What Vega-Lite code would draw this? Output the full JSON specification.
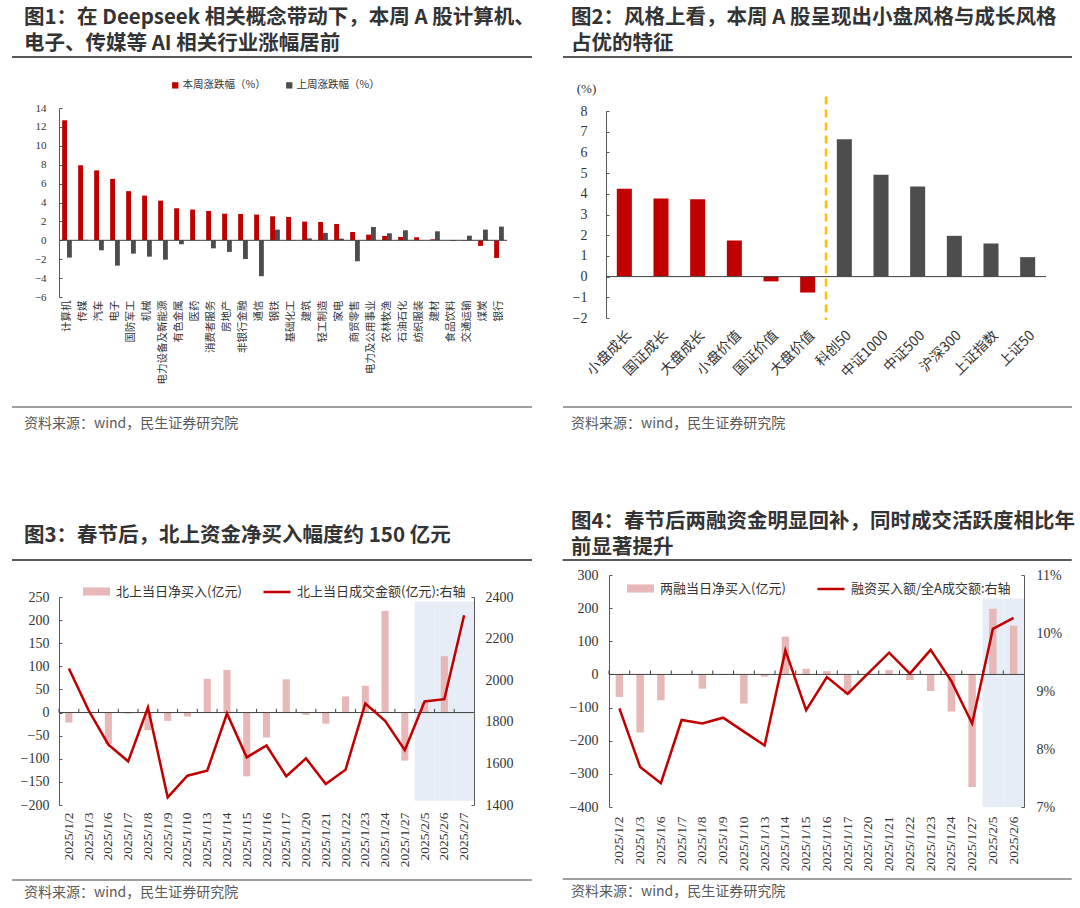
{
  "$schema": "https://vega.github.io/schema/vega-lite/v6.json",
  "background": "white",
  "padding": {"left": 10, "top": 7, "right": 5, "bottom": 5},
  "config": {
    "view": {"stroke": null},
    "title": {"font": "Noto Sans CJK SC", "fontSize": 20.5, "fontWeight": "bold", "color": "#333333", "anchor": "start", "frame": "group", "lineHeight": 26}
  },
  "resolve": {"scale": {"color": "independent", "fill": "independent", "stroke": "independent"}, "legend": {"color": "independent", "fill": "independent", "stroke": "independent"}},
  "spacing": 80,
  "vconcat": [
    {
      "spacing": 27,
      "resolve": {"scale": {"color": "independent", "fill": "independent", "stroke": "independent"}, "legend": {"color": "independent", "fill": "independent", "stroke": "independent"}},
      "hconcat": [
        {
          "spacing": 22,
          "resolve": {"scale": {"color": "independent", "fill": "independent", "stroke": "independent"}, "legend": {"color": "independent", "fill": "independent", "stroke": "independent"}},
          "vconcat": [
            {
              "width": 448, "height": 1,
              "data": {"values": [{}]},
              "title": {"text": ["图1：在 Deepseek 相关概念带动下，本周 A 股计算机、", "电子、传媒等 AI 相关行业涨幅居前"], "dx": -35, "offset": 2},
              "mark": {"type": "rule", "color": "#595959", "strokeWidth": 2},
              "encoding": {
                "x": {"datum": -0.1049, "type": "quantitative", "scale": {"domain": [0, 1], "nice": false, "zero": false}, "axis": null},
                "x2": {"datum": 1.0558},
                "y": {"datum": 1, "type": "quantitative", "scale": {"domain": [0, 1], "nice": false}, "axis": null}
              }
            },
            {
              "width": 448, "height": 189,
              "data": {"values": [
                {"industry": "计算机", "本周涨跌幅（%）": 12.7, "上周涨跌幅（%）": -1.83},
                {"industry": "传媒", "本周涨跌幅（%）": 7.94, "上周涨跌幅（%）": 0.05},
                {"industry": "汽车", "本周涨跌幅（%）": 7.4, "上周涨跌幅（%）": -1.06},
                {"industry": "电子", "本周涨跌幅（%）": 6.5, "上周涨跌幅（%）": -2.68},
                {"industry": "国防军工", "本周涨跌幅（%）": 5.2, "上周涨跌幅（%）": -1.41},
                {"industry": "机械", "本周涨跌幅（%）": 4.73, "上周涨跌幅（%）": -1.73},
                {"industry": "电力设备及新能源", "本周涨跌幅（%）": 4.2, "上周涨跌幅（%）": -2.05},
                {"industry": "有色金属", "本周涨跌幅（%）": 3.39, "上周涨跌幅（%）": -0.42},
                {"industry": "医药", "本周涨跌幅（%）": 3.25, "上周涨跌幅（%）": 0.02},
                {"industry": "消费者服务", "本周涨跌幅（%）": 3.1, "上周涨跌幅（%）": -0.85},
                {"industry": "房地产", "本周涨跌幅（%）": 2.82, "上周涨跌幅（%）": -1.23},
                {"industry": "非银行金融", "本周涨跌幅（%）": 2.79, "上周涨跌幅（%）": -1.98},
                {"industry": "通信", "本周涨跌幅（%）": 2.72, "上周涨跌幅（%）": -3.8},
                {"industry": "钢铁", "本周涨跌幅（%）": 2.54, "上周涨跌幅（%）": 1.13},
                {"industry": "基础化工", "本周涨跌幅（%）": 2.47, "上周涨跌幅（%）": -0.05},
                {"industry": "建筑", "本周涨跌幅（%）": 1.98, "上周涨跌幅（%）": 0.2},
                {"industry": "轻工制造", "本周涨跌幅（%）": 1.94, "上周涨跌幅（%）": 0.78},
                {"industry": "家电", "本周涨跌幅（%）": 1.73, "上周涨跌幅（%）": 0.18},
                {"industry": "商贸零售", "本周涨跌幅（%）": 0.88, "上周涨跌幅（%）": -2.22},
                {"industry": "电力及公用事业", "本周涨跌幅（%）": 0.6, "上周涨跌幅（%）": 1.41},
                {"industry": "农林牧渔", "本周涨跌幅（%）": 0.46, "上周涨跌幅（%）": 0.74},
                {"industry": "石油石化", "本周涨跌幅（%）": 0.35, "上周涨跌幅（%）": 1.06},
                {"industry": "纺织服装", "本周涨跌幅（%）": 0.32, "上周涨跌幅（%）": 0.02},
                {"industry": "建材", "本周涨跌幅（%）": 0.1, "上周涨跌幅（%）": 0.95},
                {"industry": "食品饮料", "本周涨跌幅（%）": 0.02, "上周涨跌幅（%）": -0.08},
                {"industry": "交通运输", "本周涨跌幅（%）": -0.05, "上周涨跌幅（%）": 0.49},
                {"industry": "煤炭", "本周涨跌幅（%）": -0.6, "上周涨跌幅（%）": 1.13},
                {"industry": "银行", "本周涨跌幅（%）": -1.87, "上周涨跌幅（%）": 1.45}
              ]},
              "layer": [
                {
                  "transform": [{"fold": ["本周涨跌幅（%）", "上周涨跌幅（%）"], "as": ["series", "value"]}],
                  "mark": {"type": "bar"},
                  "encoding": {
                    "x": {"field": "industry", "type": "nominal", "sort": null, "scale": {"paddingInner": 0, "paddingOuter": 0},
                      "axis": {"title": null, "labelAngle": -90, "domain": false, "ticks": false, "labelPadding": 3, "labelFont": "Noto Sans CJK SC", "labelFontSize": 10.5, "labelColor": "#333333"}},
                    "xOffset": {"field": "series", "type": "nominal", "sort": null, "scale": {"paddingInner": 0, "paddingOuter": 0.65}},
                    "y": {"field": "value", "type": "quantitative", "scale": {"domain": [-6, 14], "nice": false},
                      "axis": {"title": null, "values": [-6, -4, -2, 0, 2, 4, 6, 8, 10, 12, 14], "format": "d", "tickCount": 40, "labelOverlap": false, "grid": false, "domainColor": "#595959", "tickColor": "#595959", "tickSize": -3, "labelPadding": 16, "labelFont": "Liberation Serif", "labelFontSize": 11, "labelColor": "#333333"}},
                    "color": {"field": "series", "type": "nominal", "sort": null,
                      "scale": {"domain": ["本周涨跌幅（%）", "上周涨跌幅（%）"], "range": ["#C00000", "#4D4D4D"]},
                      "legend": {"orient": "none", "legendX": 111, "legendY": -28, "direction": "horizontal", "title": null, "symbolType": "square", "symbolSize": 40, "labelFont": "Noto Sans CJK SC", "labelFontSize": 10.5, "labelColor": "#333333", "columnPadding": 18, "labelOffset": 2, "padding": 0}}
                  }
                },
                {
                  "data": {"values": [{}]},
                  "mark": {"type": "rule", "color": "#404040", "strokeWidth": 1},
                  "encoding": {"y": {"datum": 0, "type": "quantitative"}}
                }
              ]
            },
            {
              "width": 448, "height": 1,
              "data": {"values": [{}]},
              "title": {"text": "资料来源：wind，民生证券研究院", "orient": "bottom", "dx": -35, "offset": 9, "fontSize": 14, "fontWeight": "normal", "color": "#595959"},
              "mark": {"type": "rule", "color": "#7F7F7F", "strokeWidth": 1.5},
              "encoding": {
                "x": {"datum": -0.1049, "type": "quantitative", "scale": {"domain": [0, 1], "nice": false, "zero": false}, "axis": null},
                "x2": {"datum": 1.0558},
                "y": {"datum": 0, "type": "quantitative", "scale": {"domain": [0, 1], "nice": false}, "axis": null}
              }
            }
          ]
        },
        {
          "spacing": 24,
          "resolve": {"scale": {"color": "independent", "fill": "independent", "stroke": "independent"}, "legend": {"color": "independent", "fill": "independent", "stroke": "independent"}},
          "vconcat": [
            {
              "width": 440, "height": 1,
              "data": {"values": [{}]},
              "title": {"text": ["图2：风格上看，本周 A 股呈现出小盘风格与成长风格", "占优的特征"], "dx": -35, "offset": 2},
              "mark": {"type": "rule", "color": "#595959", "strokeWidth": 2},
              "encoding": {
                "x": {"datum": -0.0977, "type": "quantitative", "scale": {"domain": [0, 1], "nice": false, "zero": false}, "axis": null},
                "x2": {"datum": 1.0591},
                "y": {"datum": 1, "type": "quantitative", "scale": {"domain": [0, 1], "nice": false}, "axis": null}
              }
            },
            {
              "width": 440, "height": 207,
              "data": {"values": [
                {"name": "小盘成长", "value": 4.24, "group": "风格指数"},
                {"name": "国证成长", "value": 3.77, "group": "风格指数"},
                {"name": "大盘成长", "value": 3.74, "group": "风格指数"},
                {"name": "小盘价值", "value": 1.74, "group": "风格指数"},
                {"name": "国证价值", "value": -0.23, "group": "风格指数"},
                {"name": "大盘价值", "value": -0.77, "group": "风格指数"},
                {"name": "科创50", "value": 6.63, "group": "宽基指数"},
                {"name": "中证1000", "value": 4.92, "group": "宽基指数"},
                {"name": "中证500", "value": 4.35, "group": "宽基指数"},
                {"name": "沪深300", "value": 1.97, "group": "宽基指数"},
                {"name": "上证指数", "value": 1.6, "group": "宽基指数"},
                {"name": "上证50", "value": 0.94, "group": "宽基指数"}
              ]},
              "layer": [
                {
                  "mark": {"type": "bar", "width": {"band": 0.41}},
                  "encoding": {
                    "x": {"field": "name", "type": "nominal", "sort": null, "scale": {"paddingInner": 0, "paddingOuter": 0},
                      "axis": {"title": null, "labelAngle": -45, "domain": false, "ticks": false, "labelPadding": 10, "labelFont": "Noto Sans CJK SC", "labelFontSize": 14, "labelColor": "#333333"}},
                    "y": {"field": "value", "type": "quantitative", "scale": {"domain": [-2, 8], "nice": false},
                      "axis": {"title": "(%)", "titleAngle": 0, "titleX": -20, "titleY": -23, "titleAlign": "center", "titleBaseline": "middle", "titleFont": "Liberation Serif", "titleFontSize": 13, "titleFontWeight": "normal", "titleColor": "#333333",
                        "values": [-2, -1, 0, 1, 2, 3, 4, 5, 6, 7, 8], "format": "d", "tickCount": 40, "labelOverlap": false, "grid": false, "domainColor": "#595959", "tickColor": "#595959", "tickSize": -3, "labelPadding": 22, "labelFont": "Liberation Serif", "labelFontSize": 14, "labelColor": "#333333"}},
                    "color": {"field": "group", "type": "nominal", "scale": {"domain": ["风格指数", "宽基指数"], "range": ["#C00000", "#4D4D4D"]}, "legend": null}
                  }
                },
                {
                  "data": {"values": [{}]},
                  "mark": {"type": "rule", "color": "#404040", "strokeWidth": 1},
                  "encoding": {"y": {"datum": 0, "type": "quantitative"}}
                },
                {
                  "data": {"values": [{}]},
                  "mark": {"type": "rule", "color": "#FFC000", "strokeWidth": 2.5, "strokeDash": [8, 5]},
                  "encoding": {
                    "x": {"datum": "科创50", "type": "nominal", "bandPosition": 0},
                    "y": {"datum": 8.7, "type": "quantitative"},
                    "y2": {"datum": -2.1}
                  }
                }
              ]
            },
            {
              "width": 440, "height": 3,
              "data": {"values": [{}]},
              "title": {"text": "资料来源：wind，民生证券研究院", "orient": "bottom", "dx": -35, "offset": 9, "fontSize": 14, "fontWeight": "normal", "color": "#595959"},
              "mark": {"type": "rule", "color": "#7F7F7F", "strokeWidth": 1.5},
              "encoding": {
                "x": {"datum": -0.0977, "type": "quantitative", "scale": {"domain": [0, 1], "nice": false, "zero": false}, "axis": null},
                "x2": {"datum": 1.0591},
                "y": {"datum": 0, "type": "quantitative", "scale": {"domain": [0, 1], "nice": false}, "axis": null}
              }
            }
          ]
        }
      ]
    },
    {
      "spacing": 27,
      "resolve": {"scale": {"color": "independent", "fill": "independent", "stroke": "independent"}, "legend": {"color": "independent", "fill": "independent", "stroke": "independent"}},
      "hconcat": [
        {
          "spacing": 12,
          "resolve": {"scale": {"color": "independent", "fill": "independent", "stroke": "independent"}, "legend": {"color": "independent", "fill": "independent", "stroke": "independent"}},
          "vconcat": [
            {
              "width": 415, "height": 5,
              "data": {"values": [{}]},
              "title": {"text": "图3：春节后，北上资金净买入幅度约 150 亿元", "dx": -35, "offset": 13},
              "mark": {"type": "rule", "color": "#595959", "strokeWidth": 2},
              "encoding": {
                "x": {"datum": -0.1133, "type": "quantitative", "scale": {"domain": [0, 1], "nice": false, "zero": false}, "axis": null},
                "x2": {"datum": 1.1398},
                "y": {"datum": 1, "type": "quantitative", "scale": {"domain": [0, 1], "nice": false}, "axis": null}
              }
            },
            {
              "width": 415, "height": 208,
              "data": {"values": [
                {"date": "2025/1/2", "net": -21.6, "amount": 2056},
                {"date": "2025/1/3", "net": -1, "amount": 1855},
                {"date": "2025/1/6", "net": -68, "amount": 1690},
                {"date": "2025/1/7", "net": -2, "amount": 1610},
                {"date": "2025/1/8", "net": -38, "amount": 1869},
                {"date": "2025/1/9", "net": -18, "amount": 1437},
                {"date": "2025/1/10", "net": -8.6, "amount": 1541},
                {"date": "2025/1/13", "net": 73, "amount": 1565},
                {"date": "2025/1/14", "net": 92, "amount": 1840},
                {"date": "2025/1/15", "net": -138, "amount": 1629},
                {"date": "2025/1/16", "net": -54, "amount": 1686},
                {"date": "2025/1/17", "net": 72, "amount": 1538},
                {"date": "2025/1/20", "net": -5, "amount": 1624},
                {"date": "2025/1/21", "net": -24, "amount": 1501},
                {"date": "2025/1/22", "net": 35, "amount": 1570},
                {"date": "2025/1/23", "net": 58, "amount": 1888},
                {"date": "2025/1/24", "net": 220, "amount": 1805},
                {"date": "2025/1/27", "net": -104, "amount": 1664},
                {"date": "2025/2/5", "net": 22, "amount": 1898},
                {"date": "2025/2/6", "net": 122, "amount": 1909},
                {"date": "2025/2/7", "net": 0, "amount": 2312}
              ]},
              "layer": [
                {
                  "layer": [
                    {
                      "transform": [{"filter": {"field": "date", "oneOf": ["2025/2/5", "2025/2/6", "2025/2/7"]}}],
                      "mark": {"type": "rect", "color": "#E6EDF6"},
                      "encoding": {
                        "x": {"field": "date", "type": "nominal", "sort": null,
                          "axis": {"title": null, "labelAngle": -90, "domain": false, "ticks": false, "labelPadding": 7, "labelFont": "Liberation Serif", "labelFontSize": 13.5, "labelColor": "#333333"}},
                        "y": {"datum": 240, "type": "quantitative"},
                        "y2": {"datum": -191}
                      }
                    },
                    {
                      "mark": {"type": "bar", "width": {"band": 0.36}},
                      "encoding": {
                        "x": {"field": "date", "type": "nominal", "sort": null,
                          "scale": {"domain": ["2025/1/2", "2025/1/3", "2025/1/6", "2025/1/7", "2025/1/8", "2025/1/9", "2025/1/10", "2025/1/13", "2025/1/14", "2025/1/15", "2025/1/16", "2025/1/17", "2025/1/20", "2025/1/21", "2025/1/22", "2025/1/23", "2025/1/24", "2025/1/27", "2025/2/5", "2025/2/6", "2025/2/7"], "paddingInner": 0, "paddingOuter": 0},
                          "axis": {"title": null, "labelAngle": -90, "domain": false, "ticks": false, "labelPadding": 7, "labelFont": "Liberation Serif", "labelFontSize": 13.5, "labelColor": "#333333"}},
                        "y": {"field": "net", "type": "quantitative", "scale": {"domain": [-200, 250], "nice": false},
                          "axis": {"title": null, "values": [-200, -150, -100, -50, 0, 50, 100, 150, 200, 250], "format": "d", "tickCount": 40, "labelOverlap": false, "grid": false, "domainColor": "#595959", "tickColor": "#595959", "tickSize": -3, "labelPadding": 13, "labelFont": "Liberation Serif", "labelFontSize": 14, "labelColor": "#333333"}},
                        "fill": {"datum": "北上当日净买入(亿元)", "type": "nominal", "scale": {"range": ["#E6B9B8"]},
                          "legend": {"orient": "none", "legendX": 23, "legendY": -20, "title": null, "symbolType": "M-1,-0.3H1V0.3H-1Z", "symbolSize": 729, "labelFont": "Noto Sans CJK SC", "labelFontSize": 13, "labelColor": "#333333", "labelOffset": 5, "labelLimit": 300, "padding": 0}}
                      }
                    },
                    {
                      "data": {"values": [{}]},
                      "mark": {"type": "rule", "color": "#404040", "strokeWidth": 1},
                      "encoding": {"y": {"datum": 0, "type": "quantitative"}}
                    },
                    {
                      "mark": {"type": "rule", "color": "#404040", "strokeWidth": 1},
                      "encoding": {
                        "x": {"field": "date", "type": "nominal", "sort": null, "bandPosition": 0,
                          "axis": {"title": null, "labelAngle": -90, "domain": false, "ticks": false, "labelPadding": 7, "labelFont": "Liberation Serif", "labelFontSize": 13.5, "labelColor": "#333333"}},
                        "y": {"datum": 0, "type": "quantitative"},
                        "y2": {"datum": 8}
                      }
                    }
                  ]
                },
                {
                  "mark": {"type": "line", "strokeWidth": 2.5},
                  "encoding": {
                    "x": {"field": "date", "type": "nominal", "sort": null,
                      "axis": {"title": null, "labelAngle": -90, "domain": false, "ticks": false, "labelPadding": 7, "labelFont": "Liberation Serif", "labelFontSize": 13.5, "labelColor": "#333333"}},
                    "y": {"field": "amount", "type": "quantitative", "scale": {"domain": [1400, 2400], "nice": false, "zero": false},
                      "axis": {"orient": "right", "title": null, "values": [1400, 1600, 1800, 2000, 2200, 2400], "tickCount": 40, "format": "d", "labelOverlap": false, "grid": false, "domainColor": "#595959", "tickColor": "#595959", "tickSize": -3, "labelPadding": 14, "labelFont": "Liberation Serif", "labelFontSize": 14, "labelColor": "#333333"}},
                    "stroke": {"datum": "北上当日成交金额(亿元):右轴", "type": "nominal", "scale": {"range": ["#C00000"]},
                      "legend": {"orient": "none", "legendX": 203, "legendY": -20, "title": null, "symbolType": "stroke", "symbolSize": 729, "symbolStrokeWidth": 2.5, "labelFont": "Noto Sans CJK SC", "labelFontSize": 13, "labelColor": "#333333", "labelOffset": 5, "labelLimit": 300, "padding": 0}}
                  }
                }
              ],
              "resolve": {"scale": {"y": "independent"}}
            },
            {
              "width": 415, "height": 1,
              "data": {"values": [{}]},
              "title": {"text": "资料来源：wind，民生证券研究院", "orient": "bottom", "dx": -35, "offset": 5, "fontSize": 14, "fontWeight": "normal", "color": "#595959"},
              "mark": {"type": "rule", "color": "#7F7F7F", "strokeWidth": 1.5},
              "encoding": {
                "x": {"datum": -0.1133, "type": "quantitative", "scale": {"domain": [0, 1], "nice": false, "zero": false}, "axis": null},
                "x2": {"datum": 1.1398},
                "y": {"datum": 0, "type": "quantitative", "scale": {"domain": [0, 1], "nice": false}, "axis": null}
              }
            }
          ]
        },
        {
          "spacing": 7,
          "resolve": {"scale": {"color": "independent", "fill": "independent", "stroke": "independent"}, "legend": {"color": "independent", "fill": "independent", "stroke": "independent"}},
          "vconcat": [
            {
              "width": 415, "height": 1,
              "data": {"values": [{}]},
              "title": {"text": ["图4：春节后两融资金明显回补，同时成交活跃度相比年", "前显著提升"], "dx": -38, "offset": 1},
              "mark": {"type": "rule", "color": "#595959", "strokeWidth": 2},
              "encoding": {
                "x": {"datum": -0.1116, "type": "quantitative", "scale": {"domain": [0, 1], "nice": false, "zero": false}, "axis": null},
                "x2": {"datum": 1.1149},
                "y": {"datum": 1, "type": "quantitative", "scale": {"domain": [0, 1], "nice": false}, "axis": null}
              }
            },
            {
              "width": 415, "height": 232,
              "data": {"values": [
                {"date": "2025/1/2", "net": -68, "ratio": 0.0870},
                {"date": "2025/1/3", "net": -175, "ratio": 0.0769},
                {"date": "2025/1/6", "net": -78, "ratio": 0.0741},
                {"date": "2025/1/7", "net": 1, "ratio": 0.0850},
                {"date": "2025/1/8", "net": -43, "ratio": 0.0844},
                {"date": "2025/1/9", "net": -2, "ratio": 0.0854},
                {"date": "2025/1/10", "net": -88, "ratio": 0.0830},
                {"date": "2025/1/13", "net": -7, "ratio": 0.0806},
                {"date": "2025/1/14", "net": 114, "ratio": 0.0970},
                {"date": "2025/1/15", "net": 17, "ratio": 0.0867},
                {"date": "2025/1/16", "net": 10, "ratio": 0.0924},
                {"date": "2025/1/17", "net": -60, "ratio": 0.0895},
                {"date": "2025/1/20", "net": 2, "ratio": 0.0931},
                {"date": "2025/1/21", "net": 13, "ratio": 0.0966},
                {"date": "2025/1/22", "net": -17, "ratio": 0.0930},
                {"date": "2025/1/23", "net": -50, "ratio": 0.0971},
                {"date": "2025/1/24", "net": -112, "ratio": 0.0917},
                {"date": "2025/1/27", "net": -340, "ratio": 0.0844},
                {"date": "2025/2/5", "net": 198, "ratio": 0.1007},
                {"date": "2025/2/6", "net": 147, "ratio": 0.1026}
              ]},
              "layer": [
                {
                  "layer": [
                    {
                      "transform": [{"filter": {"field": "date", "oneOf": ["2025/2/5", "2025/2/6"]}}],
                      "mark": {"type": "rect", "color": "#E6EDF6"},
                      "encoding": {
                        "x": {"field": "date", "type": "nominal", "sort": null,
                          "axis": {"title": null, "labelAngle": -90, "domain": false, "ticks": false, "labelPadding": 9, "labelFont": "Liberation Serif", "labelFontSize": 13.5, "labelColor": "#333333"}},
                        "y": {"datum": 229, "type": "quantitative"},
                        "y2": {"datum": -400}
                      }
                    },
                    {
                      "mark": {"type": "bar", "width": {"band": 0.36}},
                      "encoding": {
                        "x": {"field": "date", "type": "nominal", "sort": null,
                          "scale": {"domain": ["2025/1/2", "2025/1/3", "2025/1/6", "2025/1/7", "2025/1/8", "2025/1/9", "2025/1/10", "2025/1/13", "2025/1/14", "2025/1/15", "2025/1/16", "2025/1/17", "2025/1/20", "2025/1/21", "2025/1/22", "2025/1/23", "2025/1/24", "2025/1/27", "2025/2/5", "2025/2/6"], "paddingInner": 0, "paddingOuter": 0},
                          "axis": {"title": null, "labelAngle": -90, "domain": false, "ticks": false, "labelPadding": 9, "labelFont": "Liberation Serif", "labelFontSize": 13.5, "labelColor": "#333333"}},
                        "y": {"field": "net", "type": "quantitative", "scale": {"domain": [-400, 300], "nice": false},
                          "axis": {"title": null, "values": [-400, -300, -200, -100, 0, 100, 200, 300], "format": "d", "tickCount": 40, "labelOverlap": false, "grid": false, "domainColor": "#595959", "tickColor": "#595959", "tickSize": -3, "labelPadding": 14, "labelFont": "Liberation Serif", "labelFontSize": 14, "labelColor": "#333333"}},
                        "fill": {"datum": "两融当日净买入(亿元)", "type": "nominal", "scale": {"range": ["#E6B9B8"]},
                          "legend": {"orient": "none", "legendX": 17, "legendY": -1, "title": null, "symbolType": "M-1,-0.3H1V0.3H-1Z", "symbolSize": 729, "labelFont": "Noto Sans CJK SC", "labelFontSize": 13, "labelColor": "#333333", "labelOffset": 5, "labelLimit": 300, "padding": 0}}
                      }
                    },
                    {
                      "data": {"values": [{}]},
                      "mark": {"type": "rule", "color": "#404040", "strokeWidth": 1},
                      "encoding": {"y": {"datum": 0, "type": "quantitative"}}
                    },
                    {
                      "mark": {"type": "rule", "color": "#404040", "strokeWidth": 1},
                      "encoding": {
                        "x": {"field": "date", "type": "nominal", "sort": null, "bandPosition": 0,
                          "axis": {"title": null, "labelAngle": -90, "domain": false, "ticks": false, "labelPadding": 9, "labelFont": "Liberation Serif", "labelFontSize": 13.5, "labelColor": "#333333"}},
                        "y": {"datum": 0, "type": "quantitative"},
                        "y2": {"datum": 12}
                      }
                    }
                  ]
                },
                {
                  "mark": {"type": "line", "strokeWidth": 2.5},
                  "encoding": {
                    "x": {"field": "date", "type": "nominal", "sort": null,
                      "axis": {"title": null, "labelAngle": -90, "domain": false, "ticks": false, "labelPadding": 9, "labelFont": "Liberation Serif", "labelFontSize": 13.5, "labelColor": "#333333"}},
                    "y": {"field": "ratio", "type": "quantitative", "scale": {"domain": [0.07, 0.11], "nice": false, "zero": false},
                      "axis": {"orient": "right", "title": null, "values": [0.07, 0.08, 0.09, 0.10, 0.11], "tickCount": 40, "format": ".0%", "labelOverlap": false, "grid": false, "domainColor": "#595959", "tickColor": "#595959", "tickSize": -3, "labelPadding": 15, "labelFont": "Liberation Serif", "labelFontSize": 14, "labelColor": "#333333"}},
                    "stroke": {"datum": "融资买入额/全A成交额:右轴", "type": "nominal", "scale": {"range": ["#C00000"]},
                      "legend": {"orient": "none", "legendX": 207, "legendY": -1, "title": null, "symbolType": "stroke", "symbolSize": 729, "symbolStrokeWidth": 2.5, "labelFont": "Noto Sans CJK SC", "labelFontSize": 13, "labelColor": "#333333", "labelOffset": 5, "labelLimit": 300, "padding": 0}}
                  }
                }
              ],
              "resolve": {"scale": {"y": "independent"}}
            },
            {
              "width": 415, "height": 1,
              "data": {"values": [{}]},
              "title": {"text": "资料来源：wind，民生证券研究院", "orient": "bottom", "dx": -38, "offset": 5, "fontSize": 14, "fontWeight": "normal", "color": "#595959"},
              "mark": {"type": "rule", "color": "#7F7F7F", "strokeWidth": 1.5},
              "encoding": {
                "x": {"datum": -0.1116, "type": "quantitative", "scale": {"domain": [0, 1], "nice": false, "zero": false}, "axis": null},
                "x2": {"datum": 1.1149},
                "y": {"datum": 0, "type": "quantitative", "scale": {"domain": [0, 1], "nice": false}, "axis": null}
              }
            }
          ]
        }
      ]
    }
  ]
}
